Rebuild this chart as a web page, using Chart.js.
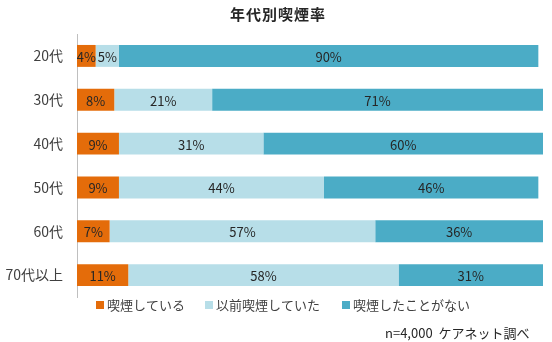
<!DOCTYPE html>
<html lang="ja">
<head>
<meta charset="utf-8">
<script src="https://cdn.jsdelivr.net/npm/chart.js@4"></script>
<style>
  html, body { margin: 0; padding: 0; background: #fff; }
  #wrap { position: relative; width: 552px; height: 342px; }
  #note {
    position: absolute; left: 385px; top: 323px;
    font: 13px "Noto Sans CJK JP", sans-serif; color: #262626; white-space: nowrap;
  }
</style>
</head>
<body>
<div id="wrap">
  <canvas id="smokeChart" width="552" height="342"></canvas>
  <div id="note">n=4,000&nbsp; ケアネット調べ</div>
</div>
<script>
// 年代別の喫煙状況（%）
const ageGroups = ['20代', '30代', '40代', '50代', '60代', '70代以上'];
const smoking = [4, 8, 9, 9, 7, 11];
const formerSmoker = [5, 21, 31, 44, 57, 58];
const neverSmoked = [90, 71, 60, 46, 36, 31];

const FONT = '"Noto Sans CJK JP", "Noto Sans", sans-serif';

// 各バーの中央に値ラベルを描く
const barLabels = {
    id: 'barLabels',
    afterDatasetsDraw(chart) {
        const ctx = chart.ctx;
        ctx.save();
        ctx.font = '13px ' + FONT;
        ctx.fillStyle = '#262626';
        ctx.textAlign = 'center';
        ctx.textBaseline = 'middle';
        chart.data.datasets.forEach((ds, i) => {
            chart.getDatasetMeta(i).data.forEach((bar, j) => {
                const p = bar.getCenterPoint();
                ctx.fillText(ds.data[j] + '%', p.x, p.y + 1);
            });
        });
        ctx.restore();
    }
};

// タイトルと凡例
const titleAndLegend = {
    id: 'titleAndLegend',
    afterDraw(chart) {
        const ctx = chart.ctx;
        ctx.save();
        ctx.font = 'bold 15px ' + FONT;
        ctx.fillStyle = '#262626';
        ctx.textAlign = 'center';
        ctx.textBaseline = 'middle';
        if ('letterSpacing' in ctx) ctx.letterSpacing = '1px';
        ctx.fillText('年代別喫煙率', 278, 14);
        if ('letterSpacing' in ctx) ctx.letterSpacing = '0px';

        // 凡例：色見本＋系列名
        const xs = [96, 205, 342];
        const y = 305;
        ctx.font = '13px ' + FONT;
        ctx.fillStyle = '#404040';
        ctx.textAlign = 'left';
        chart.data.datasets.forEach((ds, i) => {
            ctx.fillStyle = ds.backgroundColor;
            ctx.fillRect(xs[i], y - 4, 8, 8);
            ctx.fillStyle = '#404040';
            ctx.fillText(ds.label, xs[i] + 11, y);
        });
        ctx.restore();
    }
};

new Chart(document.getElementById('smokeChart').getContext('2d'), {
    type: 'bar',
    data: {
        labels: ageGroups,
        datasets: [
            { label: '喫煙している', data: smoking, backgroundColor: '#E46C0A' },
            { label: '以前喫煙していた', data: formerSmoker, backgroundColor: '#B7DEE8' },
            { label: '喫煙したことがない', data: neverSmoked, backgroundColor: '#4BACC6' }
        ]
    },
    options: {
        indexAxis: 'y',
        responsive: false,
        animation: false,
        datasets: {
            bar: { categoryPercentage: 1, barPercentage: 0.5, borderWidth: 0 }
        },
        layout: { padding: { left: 0, right: 9, top: 34, bottom: 45 } },
        scales: {
            x: { stacked: true, min: 0, max: 100, display: false },
            y: {
                stacked: true,
                grid: { display: false, drawTicks: false },
                border: { display: true, color: '#BFBFBF', width: 1 },
                ticks: { color: '#404040', font: { family: FONT, size: 14 }, padding: 14 },
                afterFit(scale) { scale.width = 77; }
            }
        },
        plugins: {
            legend: { display: false },
            tooltip: { enabled: false }
        }
    },
    plugins: [barLabels, titleAndLegend]
});
</script>
</body>
</html>
